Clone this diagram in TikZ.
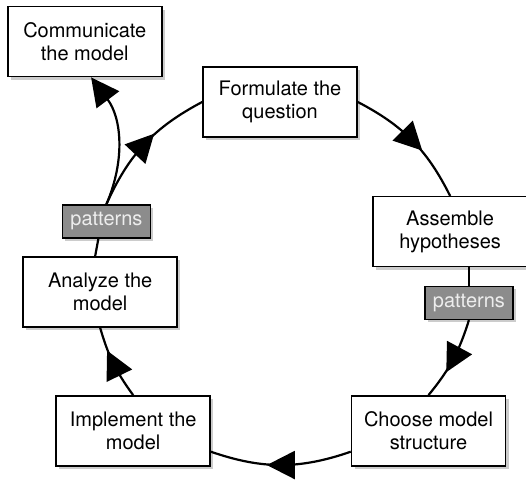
\documentclass[tikz,border=0pt]{standalone}
\usepackage{fontspec}
\setmainfont{TeX Gyre Heros}
\usetikzlibrary{arrows.meta,decorations.markings,shadows}

\begin{document}
\begin{tikzpicture}[
        stage/.style={draw, line width=0.75pt, fill=white, align=center,
          minimum width=77pt, minimum height=35pt, inner sep=0pt,
          font=\fontsize{10}{11.5}\selectfont,
          drop shadow={shadow xshift=1.5pt, shadow yshift=-1.5pt, opacity=0.4}},
        pat/.style={stage, fill=black!45, text=white!93!black,
          minimum width=44pt, minimum height=16.5pt},
        flow/.style={line width=1.1pt, postaction={decorate},
          decoration={markings, mark=at position 0.5 with
            {\arrow[xshift=7pt]{Triangle[length=14pt,width=14pt]}}}}]
        \useasboundingbox (0, 0) rectangle (9.243, 8.452);

        \node[stage] (comm) at (1.49, 7.72) {Communicate\\the model};
        \node[stage] (form) at (4.92, 6.66) {Formulate the\\question};
        \node[stage] (asm) at (7.91, 4.38) {Assemble\\hypotheses};
        \node[pat] (patr) at (8.24, 3.13) {patterns};
        \node[stage] (choose) at (7.53, 0.88) {Choose model\\structure};
        \node[stage] (impl) at (2.34, 0.88) {Implement the\\model};
        \node[stage] (ana) at (1.76, 3.32) {Analyze the\\model};
        \node[pat] (patl) at (1.87, 4.56) {patterns};

        \draw[flow] (form.east) to [bend left=18] (asm.north);
        \draw[line width=1.1pt] (asm.south -| patr.north) -- (patr.north);
        \draw[flow] (patr.south) to [bend left=11] (choose.north);
        \draw[flow] (choose.195) to [bend left=19] (impl.-15);
        \draw[flow] (impl.north) to [bend left=10] (ana.south);
        \draw[line width=1.1pt] (ana.98) -- (patl.245);
        \draw[flow] (patl.north) to [bend left=19] (form.west);
        \draw[line width=1.1pt, -{Triangle[length=14pt,width=14pt]}]
          (patl.north) to [bend right=30] (comm.-80);
      \end{tikzpicture}
\end{document}
